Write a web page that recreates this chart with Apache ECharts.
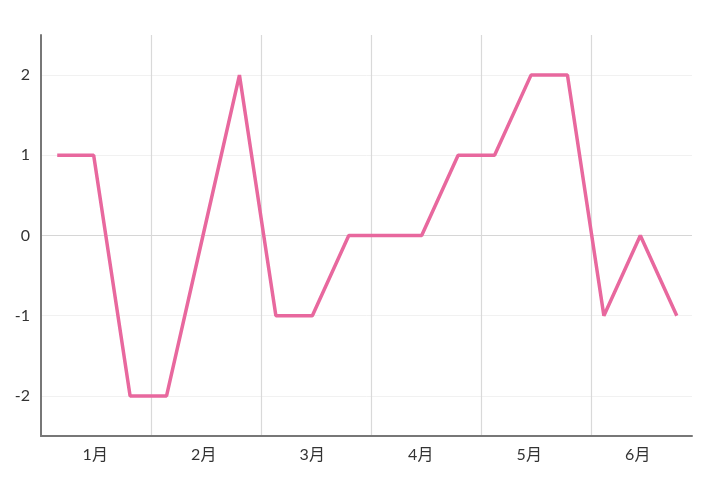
<!DOCTYPE html>
<html>
<head>
<meta charset="utf-8">
<script src="https://cdn.jsdelivr.net/npm/echarts@6/dist/echarts.min.js"></script>
<style>
html,body{margin:0;padding:0;background:#fff;}
#chart{width:720px;height:489px;}
</style>
</head>
<body>
<div id="chart"></div>
<script>
var months = ['1月','2月','3月','4月','5月','6月'];
var periods = ['1-1','1-2','1-3','2-1','2-2','2-3','3-1','3-2','3-3','4-1','4-2','4-3','5-1','5-2','5-3','6-1','6-2','6-3'];
var values = [1,1,-2,-2,0,2,-1,-1,0,0,0,1,1,2,2,-1,0,-1];
var yMin = -2.5, yMax = 2.5;

var font = 'Lato, "Noto Sans CJK JP", sans-serif';
var light = '#f1f1f1';
var vgrid = '#d9d9d9';
var clear = 'rgba(0,0,0,0)';
var chart = echarts.init(document.getElementById('chart'));
chart.setOption({
  animation: false,
  backgroundColor: '#ffffff',
  grid: [
    {left: 39, right: 25, top: 35, bottom: 53},   // line
    {left: 41, right: 19, top: 35, bottom: 53},   // month separators
    {left: 41, right: 28, top: 35, bottom: 53}    // axes + labels
  ],
  xAxis: [
    {
      gridIndex: 0, type: 'category', data: periods, boundaryGap: true,
      axisLine: {show: false}, axisTick: {show: false}, axisLabel: {show: false}, splitLine: {show: false}
    },
    {
      gridIndex: 1, type: 'category', data: months, boundaryGap: true,
      axisLine: {show: false}, axisTick: {show: false}, axisLabel: {show: false},
      splitLine: {show: true, lineStyle: {color: [clear, vgrid, vgrid, vgrid, vgrid, vgrid, clear], width: 1.2}}
    },
    {
      gridIndex: 2, type: 'category', data: months, boundaryGap: true,
      axisLine: {show: true, onZero: false, lineStyle: {color: '#777777', width: 2}},
      axisTick: {show: false},
      axisLabel: {show: true, color: '#333', fontSize: 16, fontFamily: font, margin: 11},
      splitLine: {show: false}
    }
  ],
  yAxis: [
    {gridIndex: 0, type: 'value', min: yMin, max: yMax, show: false},
    {gridIndex: 1, type: 'value', min: yMin, max: yMax, show: false},
    {
      gridIndex: 2, type: 'value', min: yMin, max: yMax,
      axisLine: {show: true, lineStyle: {color: '#777777', width: 2}},
      axisTick: {show: false},
      axisLabel: {color: '#333', fontSize: 16, fontFamily: font, margin: 11, showMinLabel: false, showMaxLabel: false},
      splitLine: {show: true, lineStyle: {color: [clear, light, light, '#d6d6d6', light, light, clear], width: 1}}
    }
  ],
  series: [{
    type: 'line',
    xAxisIndex: 0,
    yAxisIndex: 0,
    data: values,
    symbol: 'none',
    lineStyle: {color: '#e8689e', width: 3.5},
    itemStyle: {color: '#e8689e'},
    z: 5
  }]
});
</script>
</body>
</html>
